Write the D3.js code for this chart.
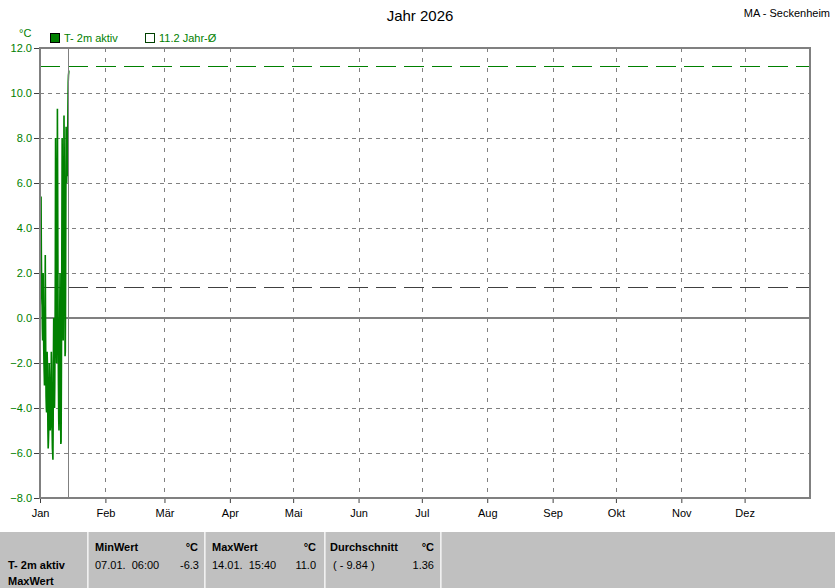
<!DOCTYPE html>
<html><head><meta charset="utf-8">
<script src="https://cdn.jsdelivr.net/npm/d3@7"></script>
<style>
html,body{margin:0;padding:0;background:#fff;}
svg{display:block;font-family:"Liberation Sans",Arial,sans-serif;}
text{white-space:pre;}
</style></head>
<body><svg id="c" width="835" height="588"></svg>
<script>
// ---- data ----
const title = "Jahr 2026";
const station = "MA - Seckenheim";
const seriesName = "T- 2m aktiv";
const refName = "11.2 Jahr-Ø";
const months = ["Jan","Feb","Mär","Apr","Mai","Jun","Jul","Aug","Sep","Okt","Nov","Dez"];
const yTicks = [-8,-6,-4,-2,0,2,4,6,8,10,12];
const refValue = 11.2;      // long-term annual mean
const avgValue = 1.36;      // current average
const seriesStart = "2026-01-01T00:00:00Z";
const stepHours = 3;
// 3-hourly temperatures (°C), 01.01. 00:00 ... 14.01. 15:00
const temps = [
  1.5, 0.6, 2.0, 4.7, 5.4, 3.0, 1.8, 1.0,      // 01.01.
  0.5, -0.5, -1.0, 0.8, 2.0, 0.2, -1.2, -2.0,  // 02.01.
  -2.5, -3.0, -2.8, 0.5, 2.8, 0.0, -2.0, -3.5, // 03.01.
  -4.0, -4.2, -3.0, -1.5, -2.0, -3.5, -5.0, -5.8, // 04.01.
  -5.5, -5.0, -3.5, -2.0, -2.5, -4.0, -4.5, -5.0, // 05.01.
  -4.8, -4.0, -3.0, -1.5, -2.0, -4.0, -5.0, -5.8, // 06.01.
  -6.0, -6.3, -4.5, -1.5, 0.0, -2.0, -3.5, -4.0,  // 07.01.
  -3.0, -1.0, 2.0, 8.0, 6.0, 2.0, -1.0, -2.0,     // 08.01.
  0.0, 4.0, 9.3, 6.0, 2.0, -1.0, -3.0, -4.5,      // 09.01.
  -5.0, -4.0, -2.0, 0.5, 2.0, -1.0, -4.0, -5.6,   // 10.01.
  -5.5, -3.0, 0.0, 4.0, 8.0, 5.0, 2.0, 0.0,       // 11.01.
  -1.0, 2.0, 6.0, 9.0, 7.0, 4.0, 2.0, -1.7,       // 12.01.
  -1.5, 1.0, 5.0, 8.5, 7.5, 6.0, 6.5, 6.3,        // 13.01.
  6.5, 8.0, 9.5, 10.5, 10.8, 10.9                 // 14.01.
];
const lastTime = "2026-01-14T15:40:00Z";
const lastTemp = 11.0;
const nowTime = "2026-01-14T10:20:00Z";
const stats = {
  rowLabels: ["T- 2m aktiv","MaxWert"],
  minLabel: "MinWert", minDate: "07.01.  06:00", minVal: "-6.3",
  maxLabel: "MaxWert", maxDate: "14.01.  15:40", maxVal: "11.0",
  avgLabel: "Durchschnitt", avgNote: "( - 9.84 )", avgVal: "1.36",
  unit: "°C"
};

// ---- chart ----
const svg = d3.select("#c");
const green = "#008000", grid = "#808080";
const L = 40, R = 810, T = 48, B = 498;
const x = d3.scaleUtc().domain([new Date("2026-01-01T00:00:00Z"), new Date("2027-01-01T00:00:00Z")]).range([L, R]);
const y = d3.scaleLinear().domain([-8, 12]).range([B, T]);

const t0 = new Date(seriesStart).getTime();
const data = temps.map((v,i)=>({t:new Date(t0 + i*stepHours*3600e3), v}));
data.push({t:new Date(lastTime), v:lastTemp});

const monthDates = months.map((m,i)=>new Date(Date.UTC(2026,i,1)));

// grid horizontal
svg.append("g").selectAll("line").data(yTicks.filter(d=>d!==0 && d!==-8 && d!==12)).join("line")
  .attr("x1",L).attr("x2",R).attr("y1",d=>y(d)).attr("y2",d=>y(d))
  .attr("stroke",grid).attr("stroke-dasharray","4,4").attr("shape-rendering","crispEdges");
// grid vertical
svg.append("g").selectAll("line").data(monthDates.slice(1)).join("line")
  .attr("x1",d=>Math.round(x(d))+0.5).attr("x2",d=>Math.round(x(d))+0.5).attr("y1",T).attr("y2",B)
  .attr("stroke",grid).attr("stroke-dasharray","4,6").attr("shape-rendering","crispEdges");

// zero line
svg.append("line").attr("x1",L).attr("x2",R).attr("y1",y(0)).attr("y2",y(0))
  .attr("stroke",grid).attr("stroke-width",2);

// reference lines
svg.append("line").attr("x1",L).attr("x2",R).attr("y1",Math.round(y(refValue))+0.5).attr("y2",Math.round(y(refValue))+0.5)
  .attr("stroke",green).attr("stroke-dasharray","20,8");
svg.append("line").attr("x1",L).attr("x2",R).attr("y1",Math.round(y(avgValue))+0.5).attr("y2",Math.round(y(avgValue))+0.5)
  .attr("stroke","#404040").attr("stroke-dasharray","20,8");

// series
svg.append("path").datum(data)
  .attr("d", d3.line().x(d=>x(d.t)).y(d=>y(d.v)))
  .attr("fill","none").attr("stroke",green).attr("stroke-width",1.6);

// now line
svg.append("line").attr("x1",Math.round(x(new Date(nowTime)))+0.5).attr("x2",Math.round(x(new Date(nowTime)))+0.5)
  .attr("y1",T).attr("y2",B).attr("stroke",grid).attr("stroke-width",1);

// frame
svg.append("rect").attr("x",L).attr("y",T).attr("width",R-L).attr("height",B-T)
  .attr("fill","none").attr("stroke",grid).attr("stroke-width",2);

// y axis
const yAxis = svg.append("g").attr("transform",`translate(${L-1},0)`)
  .call(d3.axisLeft(y).tickValues(yTicks).tickFormat(d3.format(".1f")).tickSize(5).tickSizeOuter(0));
yAxis.select(".domain").remove();
yAxis.selectAll("line").attr("stroke","#404040");
yAxis.selectAll("text").attr("fill",green).attr("font-size",11).attr("font-family","Liberation Sans, Arial").attr("dx",1);

// x axis
const xAxis = svg.append("g").attr("transform",`translate(0,${B+1})`)
  .call(d3.axisBottom(x).tickValues(monthDates).tickFormat((d,i)=>months[i]).tickSize(4).tickSizeOuter(0));
xAxis.select(".domain").remove();
xAxis.selectAll("line").attr("stroke","#404040");
xAxis.selectAll("text").attr("fill","#000").attr("font-size",11).attr("font-family","Liberation Sans, Arial").attr("dy","1em");

// unit label
svg.append("text").attr("x",19).attr("y",37).attr("fill",green).attr("font-size",11).text("°C");

// title
svg.append("text").attr("x",420).attr("y",21).attr("text-anchor","middle").attr("font-size",15).text(title);
svg.append("text").attr("x",830).attr("y",17).attr("text-anchor","end").attr("font-size",11).text(station);

// legend
svg.append("rect").attr("x",50.5).attr("y",33.5).attr("width",9).attr("height",9).attr("fill",green).attr("stroke","#000");
svg.append("text").attr("x",64).attr("y",42).attr("fill",green).attr("font-size",11).text(seriesName);
svg.append("rect").attr("x",145.5).attr("y",33.5).attr("width",9).attr("height",9).attr("fill","none").attr("stroke","#004000");
svg.append("text").attr("x",159).attr("y",42).attr("fill",green).attr("font-size",11).text(refName);

// stats panel
const P = svg.append("g");
P.append("rect").attr("x",0).attr("y",532).attr("width",835).attr("height",56).attr("fill","#c0c0c0");
[87,204,324,440].forEach(xx=>{
  P.append("line").attr("x1",xx+0.5).attr("x2",xx+0.5).attr("y1",532).attr("y2",588).attr("stroke","#f0f0f0").attr("stroke-width",1);
  P.append("line").attr("x1",xx+1.5).attr("x2",xx+1.5).attr("y1",532).attr("y2",588).attr("stroke","#e0e0e0").attr("stroke-width",1);
});
const txt = (s,xx,yy,opts={})=>P.append("text").attr("x",xx).attr("y",yy).attr("font-size",11)
  .attr("font-weight",opts.bold?"bold":"normal").attr("text-anchor",opts.anchor||"start").attr("fill","#000").text(s);
txt(stats.rowLabels[0],8,569,{bold:true});
txt(stats.rowLabels[1],8,585,{bold:true});
txt(stats.minLabel,95,551,{bold:true}); txt(stats.unit,198,551,{bold:true,anchor:"end"});
txt(stats.minDate,95,569); txt(stats.minVal,199,569,{anchor:"end"});
txt(stats.maxLabel,212,551,{bold:true}); txt(stats.unit,316,551,{bold:true,anchor:"end"});
txt(stats.maxDate,212,569); txt(stats.maxVal,316,569,{anchor:"end"});
txt(stats.avgLabel,330,551,{bold:true}); txt(stats.unit,434,551,{bold:true,anchor:"end"});
txt(stats.avgNote,333,569); txt(stats.avgVal,434,569,{anchor:"end"});
</script></body></html>
